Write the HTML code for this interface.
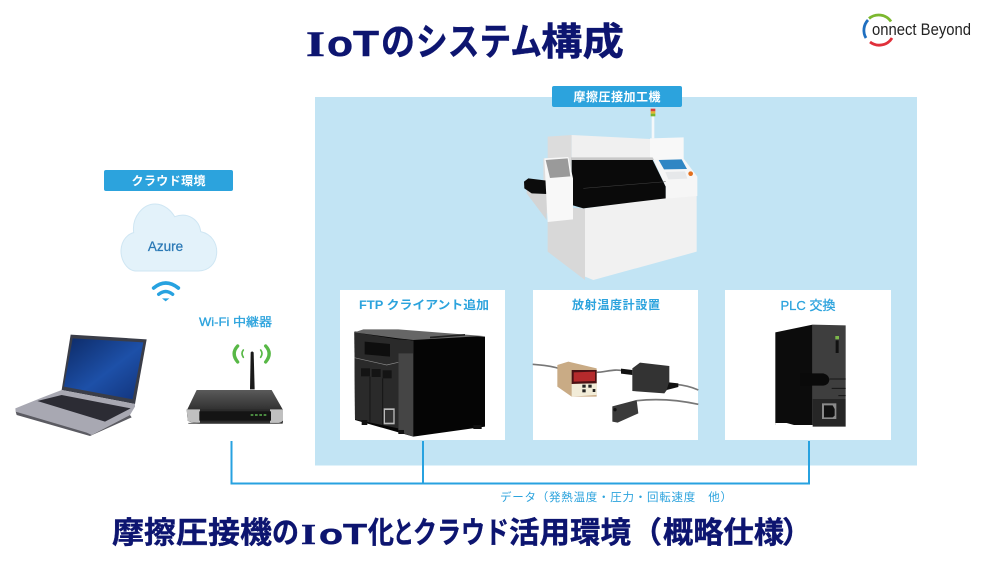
<!DOCTYPE html>
<html><head><meta charset="utf-8"><style>
html,body{margin:0;padding:0;background:#fff}
svg{display:block}
text{font-family:"Liberation Sans","Noto Sans CJK JP",sans-serif}
text.t{font-family:"Noto Sans CJK JP",sans-serif;font-weight:700;fill:#0d1570;stroke:#0d1570;stroke-width:.4}
text.d{font-family:"Liberation Sans",sans-serif;font-weight:700;fill:#0d1570;stroke:#0d1570;stroke-width:.5}
text.s{font-family:"Liberation Serif",serif;font-weight:700;fill:#0d1570;stroke:#0d1570;stroke-width:.5}
</style></head><body>
<svg width="1000" height="568" viewBox="0 0 1000 568" xmlns="http://www.w3.org/2000/svg">
<defs>
<linearGradient id="scr" x1="0" y1="0" x2="1" y2="1"><stop offset="0" stop-color="#0d2a66"/><stop offset=".55" stop-color="#1d50a8"/><stop offset="1" stop-color="#12337a"/></linearGradient>
<linearGradient id="rt" x1="0" y1="0" x2="0" y2="1"><stop offset="0" stop-color="#5a5a5a"/><stop offset="1" stop-color="#222"/></linearGradient>
</defs>
<rect width="1000" height="568" fill="#fff"/>
<text x="306" y="56" class="s" font-size="36" textLength="19" lengthAdjust="spacingAndGlyphs">I</text>
<text x="327" y="56" class="d" font-size="36" textLength="52" lengthAdjust="spacingAndGlyphs">oT</text>
<text x="381" y="55" class="t" font-size="38" textLength="34" lengthAdjust="spacingAndGlyphs">の</text>
<text x="416" y="55" class="t" font-size="38" textLength="126" lengthAdjust="spacingAndGlyphs">システム</text>
<text x="541" y="55" class="t" font-size="38" textLength="83" lengthAdjust="spacingAndGlyphs">構成</text>

<!-- logo -->
<g fill="none" stroke-width="2.800">
<path d="M869 18.500A15 15 0 0 1 891 21.500" stroke="#7cb82f"/>
<path d="M868 20A15 15 0 0 0 866 38" stroke="#1f6fc0"/>
<path d="M870 42A15 15 0 0 0 892 38" stroke="#e0303a"/>
</g>
<text x="872" y="35" font-size="17" fill="#222" textLength="99" lengthAdjust="spacingAndGlyphs">onnect Beyond</text>

<!-- panel -->
<rect x="315" y="97" width="602" height="368.500" fill="#c2e4f4"/>
<rect x="552" y="86" width="130" height="21" rx="2" fill="#2ca3dd"/>
<text x="617" y="101" font-size="12" font-weight="700" fill="#fff" text-anchor="middle" textLength="87">摩擦圧接加工機</text>

<!-- machine -->
<g transform="translate(500,80) scale(.33333)">
<rect x="455" y="105" width="8" height="70" fill="#f4f8fa"/>
<rect x="452" y="86" width="14" height="8" fill="#d9403a"/>
<rect x="452" y="94" width="14" height="7" fill="#e8b52c"/>
<rect x="452" y="101" width="14" height="8" fill="#7cb52e"/>
<path d="M143 170L215 165V240H143Z" fill="#dcdcdc"/>
<path d="M215 165L450 177V240H215Z" fill="#f0f0f0"/>
<path d="M450 175L551 172V240L450 240Z" fill="#f8f8f8"/>
<path d="M130 235L215 232V400H130Z" fill="#dedede"/>
<path d="M80 300L140 305L140 420L80 340Z" fill="#d4d4d4"/>
<path d="M72 305L85 295L140 302V342L95 340L73 325Z" fill="#0c0c0c"/>
<path d="M143 380L255 385V600L143 515Z" fill="#d8d8d8"/>
<path d="M255 385L497 352L590 345V515L280 600L255 590Z" fill="#f1f1f1"/>
<path d="M460 238L551 236L592 290V348L497 356V320Z" fill="#f6f6f6"/>
<path d="M215 240L458 240L497 320V355L250 385L215 375L215 300Z" fill="#0a0a0a"/>
<path d="M213 232L458 232L462 240H213Z" fill="#c8c8c8"/>
<path d="M476 240L545 238L561 267L492 268Z" fill="#2f86c4"/>
<path d="M496 276L555 274L562 296L505 298Z" fill="#e6e8ea"/>
<circle cx="572" cy="281" r="7" fill="#e2701e"/>
<path d="M133 235L205 231L219 295V418L143 426Z" fill="#f8f8f8"/>
<path d="M137 240L203 235L211 289L150 294Z" fill="#9a9a9a"/>
<path d="M250 325L497 305" stroke="#444" stroke-width="1.500" fill="none"/>
</g>

<!-- cards -->
<rect x="340" y="290" width="165" height="150" fill="#fff"/>
<rect x="533" y="290" width="165" height="150" fill="#fff"/>
<rect x="725" y="290" width="166" height="150" fill="#fff"/>
<text x="424" y="309" font-size="12" fill="#2ca3dd" text-anchor="middle" font-weight="700" textLength="130" lengthAdjust="spacingAndGlyphs">FTP クライアント追加</text>
<text x="616" y="309" font-size="12" fill="#2ca3dd" text-anchor="middle" font-weight="700" textLength="88">放射温度計設置</text>
<text x="808" y="310" font-size="13" fill="#2ca3dd" stroke="#2ca3dd" stroke-width=".3" text-anchor="middle" textLength="55" lengthAdjust="spacingAndGlyphs">PLC 交換</text>

<!-- FTP device -->
<g transform="translate(330,285) scale(.33333)">
<path d="M73 140L205 135L465 155V425L250 455L75 405Z" fill="#050505"/>
<path d="M73 142L205 163V430L75 403Z" fill="#2a2a2a"/>
<path d="M100 133L205 133L460 153L250 165L205 160L73 142Z" fill="#666"/>
<path d="M300 155L405 147L405 152L300 160Z" fill="#222"/>
<path d="M205 163L250 167V455L205 440Z" fill="#454545"/>
<path d="M205 163L250 167V205L205 205Z" fill="#2a2a2a"/>
<path d="M104 170L180 177V215L104 208Z" fill="#0e0e0e"/>
<path d="M73 218L170 240L205 232" stroke="#8a8a8a" stroke-width="2" fill="none"/>
<g fill="#141414"><rect x="93" y="250" width="27" height="24"/><rect x="125" y="252" width="27" height="24"/><rect x="158" y="256" width="27" height="24"/></g>
<path d="M120 275V410M158 280V420" stroke="#151515" stroke-width="3"/>
<rect x="161" y="370" width="33" height="48" fill="#bbb"/>
<rect x="165" y="375" width="25" height="38" fill="#333"/>
<g fill="#111"><rect x="95" y="405" width="17" height="15"/><rect x="205" y="435" width="17" height="12"/><rect x="430" y="420" width="25" height="12"/></g>
</g>

<!-- sensor -->
<g transform="translate(525,285) scale(.33333)">
<g fill="none" stroke="#777" stroke-width="5">
<path d="M23 238C50 240 75 242 100 250"/>
<path d="M215 262C240 262 270 250 295 258"/>
<path d="M450 298C475 300 500 306 520 315"/>
<path d="M335 347C400 340 460 345 520 358"/>
</g>
<path d="M97 240L130 230L215 250V335L140 335L97 305Z" fill="#c9ab85"/>
<path d="M140 255L215 255V295L140 297Z" fill="#4a1114"/>
<path d="M146 262L210 260V288L146 290Z" fill="#b52a2c"/>
<path d="M140 297L215 295V330L140 335Z" fill="#f2ecd8"/>
<g fill="#222"><rect x="172" y="299" width="10" height="9"/><rect x="190" y="299" width="10" height="9"/><rect x="172" y="313" width="10" height="9"/><rect x="203" y="312" width="8" height="9"/></g>
<path d="M322 250L345 233L433 243V305L418 325L322 318Z" fill="#333"/>
<path d="M288 251L322 255V270L288 266Z" fill="#111"/>
<path d="M432 292L460 295V306L425 315Z" fill="#111"/>
<path d="M262 364L335 345L340 385L278 413L262 410Z" fill="#3a3a3a"/>
<circle cx="270" cy="374" r="5" fill="#111"/>
</g>

<!-- PLC -->
<g transform="translate(720,285) scale(.33333)">
<path d="M166 142L278 119V420H166Z" fill="#0c0c0c"/>
<path d="M278 119L377 121V342H278Z" fill="#3e3e3e"/>
<path d="M278 342H377V425H278Z" fill="#262626"/>
<path d="M240 265H310Q328 270 328 285Q326 300 310 302H240Z" fill="#0a0a0a"/>
<path d="M328 282H377M335 310H377M355 332H377" stroke="#161616" stroke-width="3"/>
<rect x="346" y="153" width="11" height="10" fill="#7cb84a"/>
<rect x="347" y="166" width="9" height="38" fill="#111"/>
<rect x="306" y="355" width="43" height="47" fill="#8a8a8a"/>
<path d="M312 361H338L344 372V392L338 397H312Z" fill="#111"/>
<path d="M200 414L222 420H166V414Z" fill="#fff"/>
</g>

<!-- connectors -->
<path d="M231.500 441V483.500H809V441M423 441V483.500" fill="none" stroke="#27a2e0" stroke-width="2"/>
<text x="500" y="501" font-size="11.500" fill="#2ca3dd" textLength="232">データ（発熱温度・圧力・回転速度　他）</text>

<!-- cloud section -->
<rect x="104" y="170" width="129" height="21" rx="2" fill="#2ca3dd"/>
<text x="168.500" y="185" font-size="12" font-weight="700" fill="#fff" text-anchor="middle" textLength="74">クラウド環境</text>
<g transform="translate(90,160) scale(.33333)">
<path d="M135 333C110 330 92 300 93 270C95 238 115 222 131 218C125 170 160 132 195 132C225 132 245 155 254 170C295 155 328 180 332 215C365 222 382 250 380 280C378 312 355 333 325 333Z" fill="#e3f2fa" stroke="#cfe6f3" stroke-width="3"/>
<g fill="none" stroke="#27a2e0" stroke-linecap="round">
<path d="M191 384Q227 354 265 384" stroke-width="11"/>
<path d="M206 403Q227 386 248 403" stroke-width="10"/>
</g>
<path d="M216 415H238L227 424Z" fill="#27a2e0"/>
</g>
<text x="165.500" y="251" font-size="13.500" fill="#2a78b5" stroke="#2a78b5" stroke-width=".25" text-anchor="middle">Azure</text>
<text x="235.500" y="326" font-size="12" fill="#2ca3dd" stroke="#2ca3dd" stroke-width=".3" text-anchor="middle" textLength="73" lengthAdjust="spacingAndGlyphs">Wi-Fi 中継器</text>

<!-- laptop and router -->
<g transform="translate(0,300) scale(.33333)">
<path d="M212 104L440 118L405 312L185 270Z" fill="#3a3d48"/>
<path d="M218 115L430 127L398 298L192 260Z" fill="url(#scr)"/>
<path d="M185 270L405 312L405 320L390 345L275 405L260 403L47 335L46 325L120 295Z" fill="#a8a8b2"/>
<path d="M112 303L185 285L392 325L315 365Z" fill="#2c2c34"/>
<path d="M47 335L260 398L275 405L390 345L395 352L270 408L50 345Z" fill="#5b5b62"/>
<g fill="none" stroke="#58b846" stroke-linecap="round">
<path d="M713 138Q692 160 713 186" stroke-width="10"/><path d="M797 138Q818 160 797 186" stroke-width="10"/>
<path d="M730 150Q722 160 730 172" stroke-width="5"/><path d="M782 150Q790 160 782 172" stroke-width="5"/>
</g>
<path d="M750 268L752 158Q756 150 761 158L764 268Z" fill="#1a1a1a"/>
<path d="M590 270H815L848 328V350L562 350V328Z" fill="url(#rt)"/>
<path d="M560 328H849V368Q840 372 810 372H600Q575 370 563 362Z" fill="#2a2a2a"/>
<path d="M560 328H600V368Q575 370 563 362ZM810 328H849V362Q840 372 810 372Z" fill="#c0c0c0"/>
<rect x="598" y="334" width="215" height="28" fill="#141414"/>
<path d="M752 345H800" stroke="#4a8a40" stroke-width="6" stroke-dasharray="8 5"/>
<path d="M565 370H848" stroke="#666" stroke-width="3"/>
</g>

<!-- bottom title -->
<text x="112" y="543" class="t" font-size="30" textLength="160" lengthAdjust="spacingAndGlyphs">摩擦圧接機</text>
<text x="272" y="543" class="t" font-size="30" textLength="27" lengthAdjust="spacingAndGlyphs">の</text>
<text x="301" y="544" class="s" font-size="29" textLength="15" lengthAdjust="spacingAndGlyphs">I</text>
<text x="319" y="544" class="d" font-size="29" textLength="48" lengthAdjust="spacingAndGlyphs">oT</text>
<text x="368" y="543" class="t" font-size="30" textLength="26" lengthAdjust="spacingAndGlyphs">化</text>
<text x="393" y="543" class="t" font-size="30" textLength="21" lengthAdjust="spacingAndGlyphs">と</text>
<text x="413" y="543" class="t" font-size="30" textLength="96" lengthAdjust="spacingAndGlyphs">クラウド</text>
<text x="509" y="543" class="t" font-size="30" textLength="122" lengthAdjust="spacingAndGlyphs">活用環境</text>
<text x="632" y="543" class="t" font-size="30" textLength="30" lengthAdjust="spacingAndGlyphs">（</text>
<text x="663" y="543" class="t" font-size="30" textLength="121" lengthAdjust="spacingAndGlyphs">概略仕様</text>
<text x="782" y="543" class="t" font-size="30" textLength="30" lengthAdjust="spacingAndGlyphs">）</text>
</svg>
</body></html>
